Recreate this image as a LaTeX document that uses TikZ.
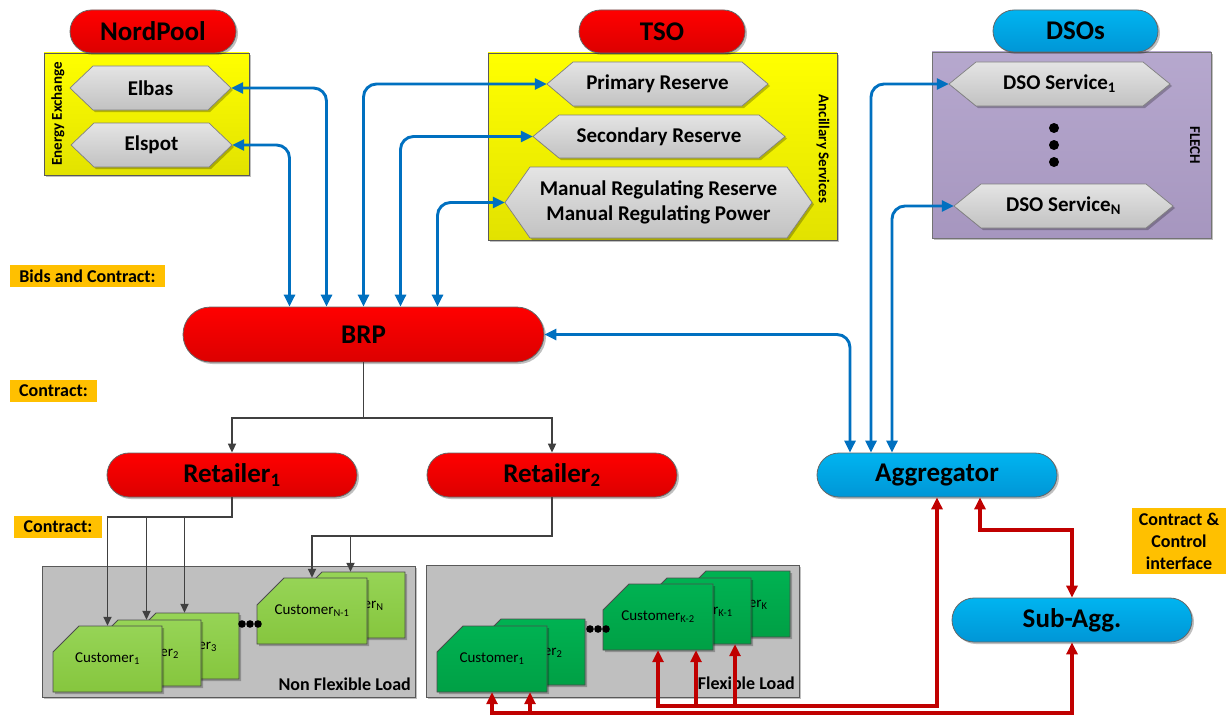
\documentclass[tikz,border=0pt]{standalone}
\usepackage{fontspec}
\setmainfont{Carlito}
\usetikzlibrary{arrows.meta,shadows,calc}

\definecolor{redT}{HTML}{FF0000}
\definecolor{redB}{HTML}{DC0000}
\definecolor{cyT}{HTML}{00B4F0}
\definecolor{cyB}{HTML}{0096D6}
\definecolor{yT}{HTML}{FFFF00}
\definecolor{yB}{HTML}{E2E200}
\definecolor{pT}{HTML}{B6A8CE}
\definecolor{pB}{HTML}{A696BF}
\definecolor{hT}{HTML}{E4E4E4}
\definecolor{hB}{HTML}{C2C2C2}
\definecolor{lgT}{HTML}{96D456}
\definecolor{lgB}{HTML}{86C63E}
\definecolor{dgT}{HTML}{00B252}
\definecolor{dgB}{HTML}{00A045}
\definecolor{loadgray}{HTML}{BFBFBF}
\definecolor{labor}{HTML}{FFC000}
\definecolor{lineblue}{HTML}{0070C0}
\definecolor{linered}{HTML}{C00000}
\definecolor{linegray}{HTML}{404040}

\newcommand{\myTitle}{\fontsize{27}{32}\selectfont\bfseries}
\newcommand{\myHex}{\fontsize{21}{25}\selectfont\bfseries}
\newcommand{\myLab}{\fontsize{18}{22}\selectfont\bfseries}
\newcommand{\myRot}{\fontsize{15}{18}\selectfont\bfseries}
\newcommand{\myCust}{\fontsize{15}{18}\selectfont}

\tikzset{
  shad/.style={drop shadow={shadow xshift=2pt, shadow yshift=-2pt, opacity=0.25, fill=black}},
  pillbase/.style={rectangle, draw=black!60, line width=0.8pt, inner sep=0pt, font=\myTitle, shad},
  pillred/.style={pillbase, top color=redT, bottom color=redB},
  pillcy/.style={pillbase, top color=cyT, bottom color=cyB},
  ybox/.style={rectangle, draw=black!65, line width=0.8pt, top color=yT, bottom color=yB, inner sep=0pt, shad},
  pbox/.style={rectangle, draw=black!55, line width=0.8pt, top color=pT, bottom color=pB, inner sep=0pt, shad},
  lbox/.style={rectangle, draw=black!65, line width=0.8pt, fill=loadgray, inner sep=0pt, shad},
  hexsty/.style={draw=black!50, line width=0.7pt, top color=hT, bottom color=hB, shad},
  hextext/.style={rectangle, draw=none, inner sep=0pt, align=center, font=\myHex},
  custL/.style={draw=black!70, line width=0.8pt, top color=lgT, bottom color=lgB, shad},
  custD/.style={draw=black!70, line width=0.8pt, top color=dgT, bottom color=dgB, shad},
  custtext/.style={rectangle, draw=none, inner sep=0pt, font=\myCust},
  lab/.style={rectangle, fill=labor, inner sep=0pt, align=center, font=\myLab},
  rotlab/.style={inner sep=0pt, font=\myRot},
  bl/.style={draw=lineblue, line width=2.9pt, rounded corners=13pt, {Triangle[length=12pt,width=11pt]}-{Triangle[length=12pt,width=11pt]}},
  gr/.style={draw=linegray, line width=1.7pt, -{Triangle[length=9pt,width=8pt]}},
  rd/.style={draw=linered, line width=3.2pt, -{Triangle[length=12pt,width=11pt]}},
  rdb/.style={draw=linered, line width=3.2pt, {Triangle[length=12pt,width=11pt]}-{Triangle[length=12pt,width=11pt]}},
}

% name, cx, cy, half width, half height, chamfer, text
\newcommand{\myhexnode}[7]{%
  \path[hexsty] ({#2-#4},#3) -- ({#2-#4+#6},{#3-#5}) -- ({#2+#4-#6},{#3-#5}) -- ({#2+#4},#3) -- ({#2+#4-#6},{#3+#5}) -- ({#2-#4+#6},{#3+#5}) -- cycle;
  \node[hextext, minimum width={2*#4}, minimum height={2*#5}] (#1) at (#2,#3) {#7};
}
% name, left, top, width, height, chamfer, style, text
\newcommand{\mycust}[8]{%
  \path[#7] (#2,{#3+#6}) -- ({#2+#6},#3) -- ({#2+#4},#3) -- ({#2+#4},{#3+#5}) -- (#2,{#3+#5}) -- cycle;
  \node[custtext, minimum width={#4}, minimum height={#5}] (#1) at ({#2+#4/2},{#3+#5/2}) {#8};
}

\begin{document}
\begin{tikzpicture}[x=1pt,y=-1pt]
\useasboundingbox (0,0) rectangle (1228,717);
\fill[white] (0,0) rectangle (1228,717);

% ---- containers
\node[ybox, minimum width=205pt, minimum height=122pt] (npbox) at (146.5,114) {};
\node[ybox, minimum width=349pt, minimum height=187pt] (tsobox) at (662.5,146.5) {};
\node[pbox, minimum width=279pt, minimum height=186pt] (dsobox) at (1071.5,145) {};

\node[rotlab, rotate=90] (ee) at (58,114) {Energy Exchange};
\node[rotlab, rotate=-90] (anc) at (823,149) {Ancillary Services};
\node[rotlab, rotate=-90] (flech) at (1195,145) {FLECH};

% ---- top pills
\node[pillred, rounded corners=21.5pt, minimum width=166pt, minimum height=43pt] (np) at (153,31.5) {NordPool};
\node[pillred, rounded corners=21.5pt, minimum width=166pt, minimum height=43pt] (tso) at (662,31.5) {TSO};
\node[pillcy, rounded corners=21pt, minimum width=165pt, minimum height=42pt] (dsos) at (1075.5,31) {DSOs};

% ---- hexagons
\myhexnode{elbas}{150.5}{88}{80.5}{22}{23}{Elbas}
\myhexnode{elspot}{151.5}{145}{80.5}{22}{23}{Elspot}
\myhexnode{prim}{657.5}{84}{110.5}{22}{26}{Primary Reserve}
\myhexnode{sec}{659}{136.5}{126}{21.5}{26}{Secondary Reserve}
\myhexnode{man}{658.5}{202.5}{153.5}{35.5}{25}{Manual Regulating Reserve\\Manual Regulating Power}
\myhexnode{dso1}{1059.5}{84}{110.5}{22}{27}{DSO Service\textsubscript{1}}
\myhexnode{dson}{1063.5}{206}{109.5}{22}{27}{DSO Service\textsubscript{N}}

\fill (1054,128) circle (5pt);
\fill (1054,145) circle (5pt);
\fill (1054,162) circle (5pt);

% ---- main actors
\node[pillred, rounded corners=27.5pt, minimum width=361pt, minimum height=55pt] (brp) at (363.5,334.5) {BRP};
\node[pillred, rounded corners=22pt, minimum width=250pt, minimum height=44pt] (r1) at (232,475) {Retailer\textsubscript{1}};
\node[pillred, rounded corners=22pt, minimum width=250pt, minimum height=44pt] (r2) at (552,475) {Retailer\textsubscript{2}};
\node[pillcy, rounded corners=22pt, minimum width=240pt, minimum height=44pt] (agg) at (937,475) {Aggregator};
\node[pillcy, rounded corners=22pt, minimum width=240pt, minimum height=44pt] (subagg) at (1072,620) {Sub-Agg.};

% ---- labels
\node[lab, minimum width=155pt, minimum height=22pt] (lbids) at (87.5,276) {Bids and Contract:};
\node[lab, minimum width=87pt, minimum height=22pt] (lcon1) at (53.5,391) {Contract:};
\node[lab, minimum width=88pt, minimum height=22pt] (lcon2) at (58,527) {Contract:};
\node[lab, minimum width=94pt, minimum height=66pt] (lcci) at (1179,541) {Contract \&\\Control\\interface};

% ---- load areas
\node[lbox, minimum width=373pt, minimum height=131pt] (nfl) at (228.5,631.5) {};
\node[lbox, minimum width=373pt, minimum height=132pt] (fl) at (612.5,631) {};
\node[anchor=base east, font=\myLab, inner sep=0pt] (nfltxt) at (411,690) {Non Flexible Load};
\node[anchor=base east, font=\myLab, inner sep=0pt] (fltxt) at (795,689) {Flexible Load};

% non flexible customers
\mycust{cn}{296}{572}{109}{66}{26}{custL}{Customer\textsubscript{N}}
\mycust{cn1}{257}{578}{110}{66}{27}{custL}{Customer\textsubscript{N-1}}
\mycust{c3}{130}{613}{109}{66}{26}{custL}{Customer\textsubscript{3}}
\mycust{c2}{92}{620}{109}{66}{26}{custL}{Customer\textsubscript{2}}
\mycust{c1}{53}{626}{109}{66}{26}{custL}{Customer\textsubscript{1}}
\fill (242,624) circle (3.8pt);
\fill (250,624) circle (3.8pt);
\fill (258,624) circle (3.8pt);

% flexible customers
\mycust{fk}{680}{571}{110}{66}{26}{custD}{Customer\textsubscript{K}}
\mycust{fk1}{641}{578}{110}{66}{26}{custD}{Customer\textsubscript{K-1}}
\mycust{fk2}{603}{584}{110}{66}{26}{custD}{Customer\textsubscript{K-2}}
\mycust{f2}{475}{619}{110}{66}{26}{custD}{Customer\textsubscript{2}}
\mycust{f1}{437}{626}{110}{66}{26}{custD}{Customer\textsubscript{1}}
\fill (590,629) circle (3.8pt);
\fill (598,629) circle (3.8pt);
\fill (606,629) circle (3.8pt);

% ---- blue connectors
\draw[bl] (elspot.east) -| ($(brp.north)+(-74,0)$);
\draw[bl] (elbas.east) -| ($(brp.north)+(-37,0)$);
\draw[bl] (brp.north) |- (prim.west);
\draw[bl] ($(brp.north)+(37,0)$) |- (sec.west);
\draw[bl] ($(brp.north)+(74,0)$) |- (man.west);
\draw[bl] (brp.east) -| ($(agg.north)+(-87,0)$);
\draw[bl] ($(agg.north)+(-66,0)$) |- (dso1.west);
\draw[bl] ($(agg.north)+(-45,0)$) |- (dson.west);

% ---- gray connectors
\coordinate (brpbus) at (363.5,418);
\draw[gr] (brp.south) -- (brpbus) -| (r1.north);
\draw[gr] (brpbus) -| (r2.north);
\coordinate (r1bus) at (232,517);
\draw[gr] (r1.south) -- (r1bus) -| (c1.north);
\draw[gr] (r1bus) -| (c2.north);
\draw[gr] (r1bus) -| (c3.north);
\coordinate (r2bus) at (552,536);
\draw[gr] (r2.south) -- (r2bus) -| (cn1.north);
\draw[gr] (r2bus) -| (cn.north);

% ---- red connectors
\coordinate (abus) at (700,713);
\coordinate (bbus) at (700,706);
\draw[rdb] (f1.south) -- (f1.south |- abus) -| (subagg.south);
\draw[rd] (f2.south |- abus) -- (f2.south |- f1.south);
\draw[rdb] (fk2.south) -- (fk2.south |- bbus) -| (agg.south);
\draw[rd] (fk1.south |- bbus) -- (fk1.south |- fk2.south);
\draw[rd] (fk.south |- bbus) -- (fk.south |- fk1.south);
\coordinate (asbend) at (1072,530);
\draw[rdb] ($(agg.south)+(43,0)$) |- (asbend) -- (subagg.north);

\end{tikzpicture}
\end{document}
